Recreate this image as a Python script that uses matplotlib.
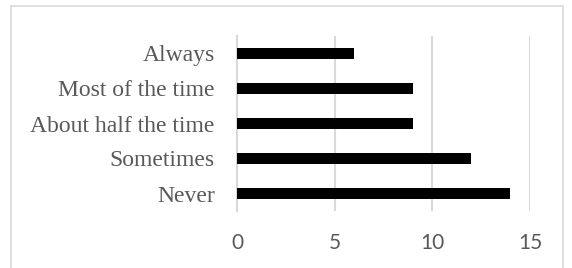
import matplotlib
matplotlib.use('Agg')
import matplotlib.pyplot as plt
from matplotlib.patches import Rectangle

# Survey response counts
categories = ['Never', 'Sometimes', 'About half the time', 'Most of the time', 'Always']
counts = [14, 12, 9, 9, 6]
x_ticks = [0, 5, 10, 15]

fig = plt.figure(figsize=(5.72, 2.68), dpi=100)
ax = fig.add_axes([237/572, 57/268, 293/572, 175/268])

ax.barh(range(len(categories)), counts, height=0.34, color='black', zorder=3)

ax.set_xlim(0, 15)
ax.set_ylim(-0.5, len(categories) - 0.5)
ax.set_xticks(x_ticks)
ax.set_yticks(range(len(categories)))
ax.set_yticklabels(categories, family='Liberation Serif', fontsize=17, color='#595959')
ax.set_xticklabels([str(t) for t in x_ticks], family='Lato', fontsize=15, color='#595959')

# grid and spines
ax.grid(axis='x', color='#d9d9d9', linewidth=1.5, zorder=0)
for s in ['top', 'right', 'bottom']:
    ax.spines[s].set_visible(False)
ax.spines['left'].set_color('#d9d9d9')
ax.spines['left'].set_linewidth(1.5)
ax.tick_params(axis='both', length=0)
ax.tick_params(axis='y', pad=16)
ax.tick_params(axis='x', pad=16)

# chart area border
fig.patches.append(Rectangle((11/572, -0.05), 552/572, 1.05 - 6/268, transform=fig.transFigure,
                             fill=False, edgecolor='#d9d9d9', linewidth=1.2))

plt.savefig('out.png', dpi=100)
